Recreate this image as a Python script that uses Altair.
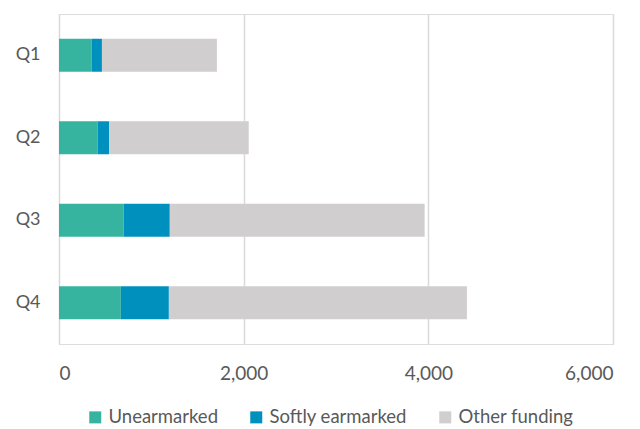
import altair as alt
import pandas as pd

quarters = ["Q1", "Q2", "Q3", "Q4"]
series = ["Unearmarked", "Softly earmarked", "Other funding"]
colors = ["#37B4A0", "#0090BE", "#D0CECF"]

unearmarked = [355, 420, 700, 670]
softly_earmarked = [110, 122, 500, 520]
other_funding = [1245, 1513, 2760, 3228]

x_ticks = [0, 2000, 4000, 6000]

rows = []
for i, q in enumerate(quarters):
    for k, (name, vals) in enumerate(zip(series, [unearmarked, softly_earmarked, other_funding])):
        rows.append({"quarter": q, "series": name, "value": vals[i], "order": k})
df = pd.DataFrame(rows)

FONT = "Lato"
TEXT = "#595959"
SIZE = 19

chart = (
    alt.Chart(df)
    .mark_bar()
    .encode(
        y=alt.Y(
            "quarter:N",
            sort=quarters,
            title=None,
            scale=alt.Scale(paddingInner=0.6, paddingOuter=0.3),
            axis=alt.Axis(
                ticks=False, domain=False, labelPadding=19, labelFontSize=18,
                labelColor=TEXT, labelFont=FONT, grid=False,
            ),
        ),
        x=alt.X(
            "value:Q",
            stack="zero",
            title=None,
            scale=alt.Scale(domain=[0, 6000], nice=False),
            axis=alt.Axis(
                values=x_ticks, format=",.0f", ticks=False, domain=False,
                labelPadding=20, labelFontSize=SIZE, labelColor=TEXT, labelFont=FONT,
                grid=True, gridColor="#D9D9D9", gridWidth=1.5,
            ),
        ),
        color=alt.Color(
            "series:N",
            sort=series,
            scale=alt.Scale(domain=series, range=colors),
            legend=alt.Legend(
                title=None, orient="none", direction="horizontal",
                legendX=27, legendY=394, padding=0, symbolType="square", symbolSize=144,
                symbolStrokeWidth=0, labelFontSize=18.5, labelColor=TEXT, labelFont=FONT,
                columnPadding=29, labelOffset=4,
            ),
        ),
        order=alt.Order("order:Q"),
    )
    .properties(
        width=554, height=330,
        autosize=alt.AutoSizeParams(type="none"),
        padding={"left": 59, "top": 14, "right": 27, "bottom": 85},
    )
    .configure_view(stroke=None)
    .configure(background="white")
)

chart.save("out.html", embed_options={"renderer": "svg", "actions": False})
